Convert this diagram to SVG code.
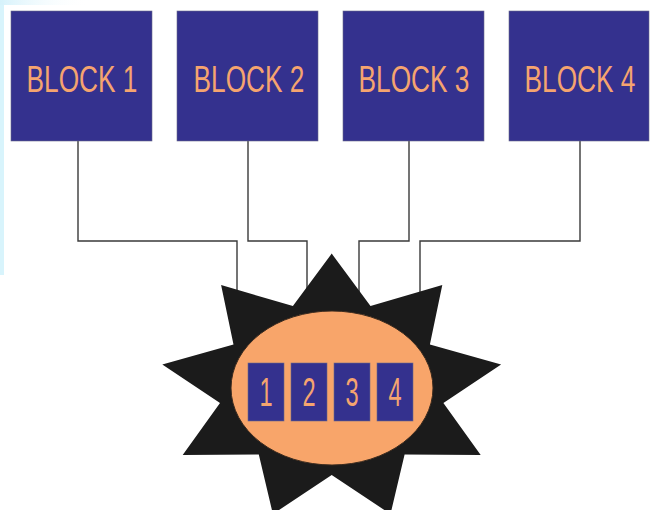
<svg xmlns="http://www.w3.org/2000/svg" width="652" height="510" viewBox="0 0 652 510">
  <defs>
    <linearGradient id="bgTop" x1="0" y1="0" x2="1" y2="0">
      <stop offset="0" stop-color="#d6f2fb"/>
      <stop offset="1" stop-color="#ffffff" stop-opacity="0"/>
    </linearGradient>
  </defs>
  <style>
    .block { fill: #34318e; stroke: #6a6a8a; stroke-width: 0.6; }
    .btext { font-family: "Liberation Sans", Arial, sans-serif; font-size: 37px; fill: #f5a46f; text-anchor: middle; }
    .dtext { font-family: "Liberation Sans", Arial, sans-serif; font-size: 40px; fill: #f5a46f; text-anchor: middle; }
    .conn { fill: none; stroke: #3a3a3a; stroke-width: 1.4; }
  </style>
  <rect x="0" y="0" width="652" height="510" fill="#ffffff"/>
  <rect x="0" y="0" width="4" height="275" fill="#d8f4fc"/>
  <rect x="0" y="0" width="90" height="5" fill="url(#bgTop)"/>

  <g id="connectors">
    <path class="conn" d="M78 141 V241 H237 V300"/>
    <path class="conn" d="M248 141 V241 H307 V292"/>
    <path class="conn" d="M409 141 V241 H359 V292"/>
    <path class="conn" d="M580 141 V241 H420 V300"/>
  </g>

  <g id="block1">
    <rect class="block" x="11" y="11" width="141" height="130"/>
    <text class="btext" transform="translate(82 92) scale(0.71 1)" x="0" y="0">BLOCK 1</text>
  </g>
  <g id="block2">
    <rect class="block" x="177" y="11" width="141" height="130"/>
    <text class="btext" transform="translate(249 92) scale(0.71 1)" x="0" y="0">BLOCK 2</text>
  </g>
  <g id="block3">
    <rect class="block" x="343" y="11" width="141" height="130"/>
    <text class="btext" transform="translate(414 92) scale(0.71 1)" x="0" y="0">BLOCK 3</text>
  </g>
  <g id="block4">
    <rect class="block" x="509" y="11" width="140" height="130"/>
    <text class="btext" transform="translate(580 92) scale(0.71 1)" x="0" y="0">BLOCK 4</text>
  </g>

  <g id="hub">
    <polygon fill="#1b1b1b" points="331.7,253.6 370.5,306.1 442.3,285.0 429.9,344.4 501.1,364.6 443.4,403.0 480.7,455.1 404.6,454.5 390.5,514.1 331.7,474.9 272.9,514.1 258.8,454.5 182.7,455.1 220.0,403.0 162.3,364.6 233.5,344.4 221.1,285.0 292.9,306.1"/>
    <ellipse cx="332" cy="388" rx="101" ry="77" fill="#f8a56a" stroke="#3a2a1e" stroke-width="1"/>
    <g id="slot1">
      <rect class="block" x="248" y="363" width="36" height="58"/>
      <text class="dtext" transform="translate(266 406) scale(0.59 1)" x="0" y="0">1</text>
    </g>
    <g id="slot2">
      <rect class="block" x="291" y="363" width="36" height="58"/>
      <text class="dtext" transform="translate(309 406) scale(0.59 1)" x="0" y="0">2</text>
    </g>
    <g id="slot3">
      <rect class="block" x="334" y="363" width="36" height="58"/>
      <text class="dtext" transform="translate(352 406) scale(0.59 1)" x="0" y="0">3</text>
    </g>
    <g id="slot4">
      <rect class="block" x="377" y="363" width="36" height="58"/>
      <text class="dtext" transform="translate(395 406) scale(0.59 1)" x="0" y="0">4</text>
    </g>
  </g>
</svg>
